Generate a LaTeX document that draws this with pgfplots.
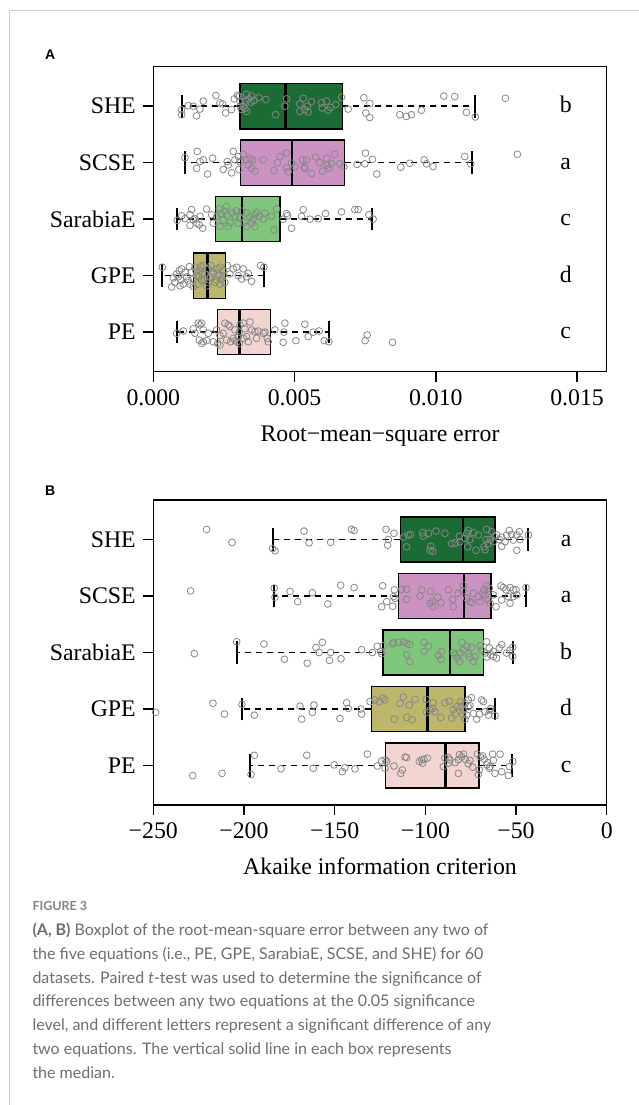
\documentclass[border=0pt]{standalone}
\usepackage{fontspec}
\setmainfont{Liberation Serif}
\newfontfamily\capfont{Lato}
\newfontfamily\labfont{Liberation Sans}
\usepackage{pgfplots}
\pgfplotsset{compat=1.18}
\usepgfplotslibrary{statistics}

\definecolor{sheC}{RGB}{27,107,52}
\definecolor{scseC}{RGB}{204,146,196}
\definecolor{sarC}{RGB}{128,198,124}
\definecolor{gpeC}{RGB}{189,183,107}
\definecolor{peC}{RGB}{242,213,209}
\definecolor{ptC}{RGB}{135,135,135}
\definecolor{capC}{RGB}{110,110,110}
\definecolor{frameC}{RGB}{205,205,205}

\tikzset{grp/.style={font=\fontsize{23.8}{26}\selectfont, anchor=base, yshift=-6.6pt}}

\pgfplotsset{
  boxplot/draw/lower whisker/.code={
    \draw[/pgfplots/boxplot/every whisker/.try, dash pattern=on 6pt off 5pt]
      (boxplot box cs:\pgfplotsboxplotvalue{lower quartile},0.5) --
      (boxplot box cs:\pgfplotsboxplotvalue{lower whisker},0.5);
    \draw[/pgfplots/boxplot/every whisker/.try, line width=1.8pt]
      (boxplot whisker cs:\pgfplotsboxplotvalue{lower whisker},0) --
      (boxplot whisker cs:\pgfplotsboxplotvalue{lower whisker},1);
  },
  boxplot/draw/upper whisker/.code={
    \draw[/pgfplots/boxplot/every whisker/.try, dash pattern=on 6pt off 5pt]
      (boxplot box cs:\pgfplotsboxplotvalue{upper quartile},0.5) --
      (boxplot box cs:\pgfplotsboxplotvalue{upper whisker},0.5);
    \draw[/pgfplots/boxplot/every whisker/.try, line width=1.8pt]
      (boxplot whisker cs:\pgfplotsboxplotvalue{upper whisker},0) --
      (boxplot whisker cs:\pgfplotsboxplotvalue{upper whisker},1);
  },
  panel/.style={
    scale only axis,
    width=453.4pt, height=305pt,
    anchor=south west,
    ymin=0.3, ymax=5.7,
    ytick={1,2,3,4,5},
    yticklabels={PE,GPE,SarabiaE,SCSE,SHE},
    scaled x ticks=false,
    tick align=outside,
    xtick pos=left, ytick pos=left,
    major tick length=10pt,
    axis line style={line width=1.5pt},
    every tick/.style={line width=1.5pt, black},
    ticklabel style={font=\fontsize{23.8}{26}\selectfont},
    yticklabel style={xshift=-4pt},
    xticklabel style={yshift=-4pt},
    xlabel style={at={(axis description cs:0.5,0)}, anchor=base, yshift=-70pt,
      font=\fontsize{23.8}{26}\selectfont},
    boxplot/draw direction=x,
    boxplot/every median/.style={line width=2.6pt},
    boxplot/every whisker/.style={line width=1.5pt},
  },
  bx/.style={draw=black, line width=1.4pt, fill=#1},
  pts/.style={only marks, mark=o, mark size=3.4pt, color=ptC,
    mark options={line width=0.8pt}},
}

\begin{document}
\begin{tikzpicture}[x=1pt, y=1pt]
\draw[frameC, line width=1pt] (9,0) -- (9,1094) -- (639,1094);

\node[anchor=base west, inner sep=0pt, font=\labfont\bfseries\fontsize{14}{16}\selectfont] at (45,1045) {A};
\node[anchor=base west, inner sep=0pt, font=\labfont\bfseries\fontsize{14}{16}\selectfont] at (45,609) {B};

% panel A: root-mean-square error
\begin{axis}[panel, at={(153.3pt,733.3pt)},
  xmin=0, xmax=0.01605,
  xtick={0,0.005,0.01,0.015},
  xticklabels={0.000,0.005,0.010,0.015},
  xlabel={Root−mean−square error}]
\addplot[bx=sheC, boxplot prepared={lower whisker=0.001005, lower quartile=0.003068,
  median=0.004685, upper quartile=0.006688, upper whisker=0.011384,
  draw position=5, box extend=0.8, whisker extend=0.4}] coordinates {};
\addplot[bx=scseC, boxplot prepared={lower whisker=0.001122, lower quartile=0.003092,
  median=0.004908, upper quartile=0.006773, upper whisker=0.011288,
  draw position=4, box extend=0.8, whisker extend=0.4}] coordinates {};
\addplot[bx=sarC, boxplot prepared={lower whisker=0.000849, lower quartile=0.002208,
  median=0.003139, upper quartile=0.004483, upper whisker=0.00775,
  draw position=3, box extend=0.8, whisker extend=0.4}] coordinates {};
\addplot[bx=gpeC, boxplot prepared={lower whisker=0.000319, lower quartile=0.001415,
  median=0.001911, upper quartile=0.002548, upper whisker=0.003917,
  draw position=2, box extend=0.8, whisker extend=0.4}] coordinates {};
\addplot[bx=peC, boxplot prepared={lower whisker=0.000828, lower quartile=0.002265,
  median=0.003043, upper quartile=0.00414, upper whisker=0.006217,
  draw position=1, box extend=0.8, whisker extend=0.4}] coordinates {};

\addplot[pts] table[row sep=\\] {
x y \\
0.001003 4.94 \\ 0.001003 4.85 \\ 0.001415 5.00 \\ 0.001533 4.83 \\ 0.001651 4.95 \\
0.00177 5.09 \\ 0.002359 5.06 \\ 0.002453 5.04 \\ 0.002559 4.88 \\ 0.002217 5.19 \\
0.002771 4.94 \\ 0.002983 5.19 \\ 0.003031 5.17 \\ 0.003066 5.09 \\ 0.003125 4.94 \\
0.003184 5.00 \\ 0.003278 5.09 \\ 0.003302 5.21 \\ 0.003302 4.91 \\ 0.003373 5.13 \\
0.003455 5.07 \\ 0.003561 5.10 \\ 0.003738 5.15 \\ 0.003986 5.12 \\ 0.004327 4.85 \\
0.004717 5.13 \\ 0.004658 5.00 \\ 0.005188 5.04 \\ 0.005306 5.14 \\ 0.005365 4.94 \\
0.005448 5.00 \\ 0.005483 4.90 \\ 0.005601 5.08 \\ 0.005955 5.06 \\ 0.005978 4.97 \\
0.00619 4.93 \\ 0.006273 4.98 \\ 0.006662 5.16 \\ 0.006898 4.95 \\ 0.007452 5.15 \\
0.007664 5.05 \\ 0.007523 4.88 \\ 0.007664 4.80 \\ 0.008725 4.85 \\ 0.008961 4.82 \\
0.009138 4.85 \\ 0.009491 4.93 \\ 0.010281 5.18 \\ 0.01067 5.17 \\ 0.011083 4.89 \\
0.011401 4.81 \\ 0.012462 5.14 \\ 0.002866 5.13 \\ 0.003243 4.96 \\ 0.003066 5.00 \\
0.006131 5.09 \\ 0.006461 5.03 \\ 0.001239 5.01 \\ 0.005188 4.91 \\ 0.003479 5.18 \\
0.001121 4.09 \\ 0.001557 4.20 \\ 0.001651 4.02 \\ 0.00177 4.05 \\ 0.001533 3.90 \\
0.001922 3.80 \\ 0.002099 4.08 \\ 0.002477 3.88 \\ 0.002618 4.02 \\ 0.002771 3.82 \\
0.00283 4.20 \\ 0.003007 4.11 \\ 0.003031 3.88 \\ 0.003184 4.15 \\ 0.003302 4.05 \\
0.00342 4.08 \\ 0.003514 4.05 \\ 0.003479 3.90 \\ 0.003597 3.85 \\ 0.003891 4.05 \\
0.004268 3.86 \\ 0.004398 4.00 \\ 0.004717 4.17 \\ 0.004717 3.91 \\ 0.004894 3.99 \\
0.005011 3.93 \\ 0.005283 4.05 \\ 0.005342 3.92 \\ 0.005601 3.81 \\ 0.005742 4.10 \\
0.00599 3.85 \\ 0.005896 4.00 \\ 0.006155 3.96 \\ 0.006214 3.90 \\ 0.006426 4.15 \\
0.006603 3.98 \\ 0.006744 3.93 \\ 0.007216 3.97 \\ 0.007511 4.17 \\ 0.007487 3.98 \\
0.007758 4.06 \\ 0.007911 3.80 \\ 0.008761 3.92 \\ 0.009079 3.99 \\ 0.009586 4.05 \\
0.009668 3.98 \\ 0.009904 3.93 \\ 0.011024 4.11 \\ 0.011236 3.98 \\ 0.012887 4.15 \\
0.003066 4.02 \\ 0.003361 3.96 \\ 0.004775 3.84 \\ 0.005365 3.90 \\ 0.005424 4.05 \\
0.006308 3.99 \\ 0.002653 3.96 \\ 0.004481 4.11 \\ 0.006131 4.08 \\ 0.002889 4.05 \\
0.000849 2.98 \\ 0.001003 3.06 \\ 0.001121 3.01 \\ 0.001298 3.08 \\ 0.001357 3.17 \\
0.001298 2.89 \\ 0.001475 3.01 \\ 0.001533 2.93 \\ 0.001627 2.90 \\ 0.001746 2.84 \\
0.001887 3.18 \\ 0.002064 3.08 \\ 0.002123 2.93 \\ 0.002335 3.18 \\ 0.002394 3.10 \\
0.002536 3.14 \\ 0.002618 3.08 \\ 0.002712 2.94 \\ 0.002807 3.11 \\ 0.002653 2.87 \\
0.002889 3.05 \\ 0.002948 3.15 \\ 0.003066 3.02 \\ 0.003208 2.94 \\ 0.003302 3.11 \\
0.003302 2.87 \\ 0.003396 3.05 \\ 0.003538 3.00 \\ 0.003597 2.87 \\ 0.003656 3.12 \\
0.00375 3.05 \\ 0.003891 3.00 \\ 0.004186 3.05 \\ 0.004268 2.81 \\ 0.004363 3.18 \\
0.004599 3.00 \\ 0.004717 3.10 \\ 0.004752 3.06 \\ 0.004894 2.84 \\ 0.005247 3.05 \\
0.005306 3.17 \\ 0.005542 3.00 \\ 0.005837 3.01 \\ 0.006096 3.10 \\ 0.006662 3.13 \\
0.007134 3.17 \\ 0.007252 3.17 \\ 0.007629 3.08 \\ 0.007782 3.00 \\ 0.001416 2.99 \\
0.002241 3.05 \\ 0.002477 2.98 \\ 0.003125 3.14 \\ 0.003479 2.93 \\ 0.002359 2.87 \\
0.003951 3.11 \\ 0.002594 3.23 \\ 0.001651 3.05 \\ 0.003007 2.93 \\ 0.003597 3.08 \\
0.000319 2.15 \\ 0.000649 1.80 \\ 0.000767 1.88 \\ 0.000826 2.03 \\ 0.00092 2.09 \\
0.000967 1.92 \\ 0.001003 2.12 \\ 0.001062 1.85 \\ 0.00118 1.98 \\ 0.001274 2.16 \\
0.001298 1.85 \\ 0.001357 2.06 \\ 0.001416 1.94 \\ 0.001475 2.15 \\ 0.001533 2.00 \\
0.001592 1.85 \\ 0.001651 2.09 \\ 0.00171 1.91 \\ 0.00177 2.18 \\ 0.001828 2.03 \\
0.001887 1.82 \\ 0.001946 2.12 \\ 0.002005 1.97 \\ 0.00204 2.18 \\ 0.002123 2.06 \\
0.002182 1.88 \\ 0.002264 2.12 \\ 0.002335 2.00 \\ 0.002359 1.85 \\ 0.002418 1.94 \\
0.002477 2.09 \\ 0.002618 2.18 \\ 0.002712 2.03 \\ 0.00283 2.12 \\ 0.002948 2.15 \\
0.003007 2.00 \\ 0.003184 2.12 \\ 0.003302 1.98 \\ 0.003361 2.04 \\ 0.003479 1.90 \\
0.003797 2.18 \\ 0.003915 2.15 \\ 0.000885 1.98 \\ 0.001121 2.06 \\ 0.001239 1.91 \\
0.001628 1.98 \\ 0.001734 2.03 \\ 0.001805 1.94 \\ 0.001946 1.88 \\ 0.002064 2.03 \\
0.002241 1.92 \\ 0.002477 2.00 \\ 0.001416 1.80 \\ 0.000708 1.96 \\ 0.00151 2.08 \\
0.002535 1.88 \\ 0.002359 2.15 \\ 0.001686 2.16 \\ 0.003125 1.94 \\ 0.000944 1.82 \\
0.000826 0.98 \\ 0.001062 1.02 \\ 0.001416 1.06 \\ 0.001475 0.98 \\ 0.001592 1.16 \\
0.001651 1.13 \\ 0.00171 1.16 \\ 0.001628 0.86 \\ 0.001769 0.83 \\ 0.00171 0.80 \\
0.001887 0.85 \\ 0.001946 0.98 \\ 0.002123 0.83 \\ 0.002241 1.04 \\ 0.002276 0.80 \\
0.002359 0.77 \\ 0.002536 1.16 \\ 0.002653 1.13 \\ 0.002712 1.10 \\ 0.002736 0.83 \\
0.00283 0.89 \\ 0.002889 0.85 \\ 0.002971 0.83 \\ 0.003042 1.00 \\ 0.003066 1.13 \\
0.003042 0.80 \\ 0.003184 1.16 \\ 0.003243 1.06 \\ 0.003302 0.92 \\ 0.003361 0.83 \\
0.00342 1.18 \\ 0.003479 1.04 \\ 0.003597 1.01 \\ 0.003715 1.02 \\ 0.003892 0.98 \\
0.003951 1.00 \\ 0.004033 0.89 \\ 0.004068 0.83 \\ 0.004304 1.04 \\ 0.004658 1.16 \\
0.004622 1.00 \\ 0.004599 0.82 \\ 0.005047 0.85 \\ 0.005365 1.14 \\ 0.005483 0.92 \\
0.00566 1.00 \\ 0.005872 1.02 \\ 0.006049 0.85 \\ 0.006214 0.83 \\ 0.00757 0.95 \\
0.007499 0.85 \\ 0.008466 0.82 \\ 0.002477 0.98 \\ 0.002594 0.86 \\ 0.002889 1.04 \\
0.003184 0.89 \\ 0.003656 0.89 \\ 0.002359 0.94 \\ 0.001769 1.04 \\ 0.003007 0.92 \\
};

\node[grp] at (axis cs:0.0146,5) {b};
\node[grp] at (axis cs:0.0146,4) {a};
\node[grp] at (axis cs:0.0146,3) {c};
\node[grp] at (axis cs:0.0146,2) {d};
\node[grp] at (axis cs:0.0146,1) {c};
\end{axis}

% panel B: Akaike information criterion
\begin{axis}[panel, at={(153.3pt,300pt)},
  xmin=-250, xmax=0,
  xtick={-250,-200,-150,-100,-50,0},
  xticklabels={−250,−200,−150,−100,−50,0},
  xlabel={Akaike information criterion}]
\addplot[bx=sheC, boxplot prepared={lower whisker=-184.2, lower quartile=-113.8,
  median=-79.2, upper quartile=-61.6, upper whisker=-43.4,
  draw position=5, box extend=0.8, whisker extend=0.4}] coordinates {};
\addplot[bx=scseC, boxplot prepared={lower whisker=-183.3, lower quartile=-114.9,
  median=-78.7, upper quartile=-63.8, upper whisker=-44.5,
  draw position=4, box extend=0.8, whisker extend=0.4}] coordinates {};
\addplot[bx=sarC, boxplot prepared={lower whisker=-204.0, lower quartile=-123.3,
  median=-86.4, upper quartile=-67.8, upper whisker=-51.8,
  draw position=3, box extend=0.8, whisker extend=0.4}] coordinates {};
\addplot[bx=gpeC, boxplot prepared={lower whisker=-201.1, lower quartile=-129.8,
  median=-98.9, upper quartile=-78.1, upper whisker=-61.8,
  draw position=2, box extend=0.8, whisker extend=0.4}] coordinates {};
\addplot[bx=peC, boxplot prepared={lower whisker=-196.5, lower quartile=-122.1,
  median=-88.8, upper quartile=-70.4, upper whisker=-52.2,
  draw position=1, box extend=0.8, whisker extend=0.4}] coordinates {};

\addplot[pts] table[row sep=\\] {
x y \\
-220.6 5.18 \\ -206.6 4.95 \\ -184.2 4.84 \\ -182.9 4.80 \\ -166.9 5.15 \\
-164.1 4.94 \\ -152.2 4.95 \\ -140.8 5.18 \\ -139.3 5.16 \\ -121.7 5.18 \\
-120.4 5.00 \\ -120.8 4.90 \\ -117.3 5.11 \\ -112.1 5.04 \\ -110.3 4.87 \\
-108.1 5.09 \\ -101.5 5.12 \\ -101.1 5.06 \\ -98.3 5.11 \\ -97.0 4.88 \\
-95.9 4.79 \\ -94.1 5.15 \\ -89.2 5.11 \\ -85.5 4.93 \\ -83.6 4.94 \\
-81.2 5.06 \\ -80.9 4.96 \\ -77.2 5.11 \\ -76.7 4.87 \\ -75.4 5.00 \\
-73.5 5.12 \\ -72.1 4.81 \\ -70.8 5.08 \\ -67.1 4.82 \\ -66.5 5.00 \\
-66.2 5.18 \\ -63.4 5.14 \\ -62.5 4.96 \\ -60.7 5.08 \\ -59.2 5.00 \\
-57.9 4.88 \\ -56.1 4.96 \\ -55.2 5.08 \\ -53.7 5.16 \\ -52.4 5.09 \\
-49.6 4.81 \\ -48.2 5.14 \\ -47.8 5.00 \\ -43.2 5.08 \\ -61.9 5.05 \\
-57.9 5.04 \\ -64.3 5.00 \\ -67.7 4.87 \\ -78.1 5.02 \\ -76.3 5.16 \\
-51.5 4.99 \\ -65.3 4.93 \\ -49.6 5.08 \\ -97.4 4.81 \\ -109.4 5.08 \\
-229.4 4.09 \\ -183.3 4.14 \\ -182.9 3.98 \\ -174.6 4.08 \\ -170.4 3.90 \\
-162.3 4.06 \\ -153.8 3.86 \\ -146.7 4.19 \\ -139.3 4.15 \\ -123.5 4.18 \\
-124.1 3.81 \\ -121.3 3.90 \\ -118.0 3.82 \\ -116.7 3.96 \\ -113.0 4.12 \\
-110.3 4.12 \\ -110.3 3.94 \\ -102.9 4.00 \\ -102.0 4.11 \\ -97.0 4.08 \\
-96.1 3.90 \\ -95.9 3.81 \\ -93.2 3.98 \\ -91.4 3.88 \\ -84.9 3.94 \\
-84.6 3.81 \\ -79.0 4.19 \\ -79.4 4.09 \\ -75.4 3.90 \\ -74.1 3.88 \\
-73.5 4.05 \\ -70.8 3.99 \\ -68.4 4.05 \\ -67.5 4.11 \\ -66.2 4.18 \\
-64.7 4.14 \\ -64.3 3.87 \\ -62.5 4.02 \\ -61.0 3.81 \\ -58.3 4.18 \\
-57.0 4.15 \\ -55.5 4.11 \\ -53.3 4.15 \\ -51.5 4.11 \\ -50.0 4.11 \\
-49.6 4.02 \\ -53.3 3.87 \\ -57.9 3.93 \\ -44.5 4.15 \\ -117.1 4.11 \\
-77.2 3.96 \\ -69.8 3.90 \\ -65.3 3.93 \\ -81.8 4.05 \\ -54.2 3.99 \\
-97.4 3.87 \\ -87.3 4.11 \\ -67.1 4.02 \\ -117.6 3.99 \\ -51.5 3.99 \\
-227.4 2.98 \\ -204.0 3.19 \\ -189.0 3.15 \\ -177.7 2.88 \\ -165.1 2.81 \\
-160.3 3.09 \\ -156.8 3.18 \\ -158.6 3.00 \\ -152.2 3.00 \\ -152.9 2.86 \\
-146.5 2.89 \\ -135.1 3.05 \\ -129.2 3.00 \\ -126.5 3.11 \\ -124.1 2.98 \\
-123.2 3.12 \\ -118.2 3.15 \\ -114.9 3.18 \\ -112.1 3.19 \\ -110.3 3.16 \\
-108.5 3.14 \\ -108.5 2.84 \\ -100.7 3.18 \\ -100.7 3.02 \\ -92.8 2.95 \\
-91.0 3.02 \\ -91.4 2.88 \\ -83.6 2.96 \\ -82.3 2.90 \\ -81.2 2.84 \\
-80.0 3.18 \\ -79.0 3.05 \\ -77.2 3.11 \\ -76.3 2.98 \\ -75.7 2.92 \\
-74.5 3.09 \\ -73.5 2.84 \\ -69.8 3.12 \\ -67.1 2.99 \\ -66.2 3.19 \\
-66.2 2.92 \\ -64.7 3.08 \\ -64.0 2.96 \\ -62.5 3.02 \\ -60.7 2.90 \\
-59.2 3.08 \\ -57.9 3.14 \\ -55.2 2.99 \\ -53.3 3.04 \\ -51.8 2.93 \\
-51.8 3.09 \\ -117.6 3.18 \\ -110.3 2.96 \\ -98.3 3.11 \\ -84.6 3.00 \\
-72.6 2.93 \\ -62.5 2.93 \\ -80.9 2.99 \\ -68.9 3.04 \\ -124.6 3.02 \\
-248.7 1.94 \\ -217.1 2.10 \\ -210.8 1.91 \\ -201.1 2.08 \\ -194.3 1.89 \\
-169.1 2.05 \\ -168.2 1.82 \\ -161.4 2.07 \\ -162.3 1.94 \\ -147.1 1.83 \\
-143.4 2.11 \\ -142.5 2.01 \\ -135.5 2.00 \\ -135.1 1.91 \\ -130.5 2.13 \\
-127.8 2.16 \\ -125.4 2.13 \\ -123.5 2.19 \\ -117.1 1.82 \\ -114.0 2.10 \\
-112.1 2.21 \\ -110.3 1.85 \\ -108.8 2.07 \\ -107.2 1.81 \\ -105.7 2.17 \\
-99.6 2.17 \\ -99.3 1.94 \\ -97.4 1.98 \\ -95.6 2.11 \\ -94.7 1.95 \\
-91.5 1.85 \\ -89.2 2.11 \\ -86.8 2.14 \\ -85.5 1.84 \\ -84.6 1.99 \\
-83.6 1.91 \\ -80.5 2.13 \\ -79.4 1.91 \\ -78.1 1.82 \\ -76.3 2.16 \\
-75.4 2.06 \\ -74.5 2.20 \\ -73.5 1.92 \\ -71.7 1.82 \\ -70.2 1.91 \\
-68.9 2.16 \\ -68.0 2.13 \\ -65.2 1.89 \\ -64.7 1.98 \\ -64.0 2.01 \\
-61.6 1.88 \\ -82.7 2.04 \\ -76.3 2.04 \\ -79.0 1.98 \\ -95.9 2.01 \\
-122.2 2.16 \\ -78.1 2.10 \\ -67.1 1.95 \\ -77.2 1.89 \\ -80.5 2.04 \\
-228.3 0.82 \\ -212.1 0.86 \\ -196.1 0.84 \\ -194.3 1.18 \\ -179.6 0.94 \\
-165.4 1.18 \\ -161.8 0.95 \\ -150.3 1.01 \\ -145.8 0.89 \\ -144.3 0.96 \\
-138.8 0.94 \\ -132.0 1.20 \\ -126.5 0.99 \\ -124.1 1.08 \\ -122.2 1.10 \\
-122.2 0.95 \\ -121.3 1.07 \\ -117.3 0.99 \\ -113.6 0.86 \\ -112.7 0.92 \\
-111.2 1.15 \\ -110.3 1.14 \\ -103.3 1.07 \\ -102.0 1.10 \\ -101.5 1.04 \\
-100.7 1.11 \\ -98.9 1.13 \\ -90.1 0.98 \\ -89.2 1.13 \\ -87.3 1.14 \\
-86.4 1.10 \\ -83.6 1.05 \\ -81.8 0.86 \\ -81.2 1.19 \\ -80.0 1.15 \\
-79.0 1.20 \\ -78.1 1.11 \\ -75.4 1.09 \\ -73.9 0.97 \\ -71.3 1.20 \\
-70.8 0.84 \\ -70.2 0.92 \\ -69.5 1.15 \\ -68.4 1.17 \\ -67.5 1.11 \\
-66.2 1.01 \\ -65.6 1.05 \\ -64.3 0.98 \\ -62.9 1.20 \\ -62.5 1.09 \\
-61.6 0.86 \\ -58.8 1.20 \\ -57.9 0.89 \\ -54.2 0.82 \\ -51.8 1.07 \\
-87.3 1.04 \\ -76.3 1.03 \\ -64.7 0.95 \\ -81.8 1.10 \\ -53.7 0.98 \\
};

\node[grp] at (axis cs:-22.4,5) {a};
\node[grp] at (axis cs:-22.4,4) {a};
\node[grp] at (axis cs:-22.4,3) {b};
\node[grp] at (axis cs:-22.4,2) {d};
\node[grp] at (axis cs:-22.4,1) {c};
\end{axis}

% caption
\node[anchor=base west, inner sep=0pt, text=capC!85, font=\capfont\bfseries\fontsize{12.5}{14}\selectfont] at (32.3,194.3) {FIGURE 3};
\begin{scope}[every node/.style={anchor=base west, inner sep=0pt, text=capC, font=\capfont\fontsize{16}{20}\selectfont}]
\node at (32.3,169.3) {\textbf{(A, B)} Boxplot of the root-mean-square error between any two of};
\node at (32.3,145.5) {the five equations (i.e., PE, GPE, SarabiaE, SCSE, and SHE) for 60};
\node at (32.3,121.7) {datasets. Paired \textit{t}-test was used to determine the significance of};
\node at (32.3,98.0) {differences between any two equations at the 0.05 significance};
\node at (32.3,74.2) {level, and different letters represent a significant difference of any};
\node at (32.3,50.4) {two equations. The vertical solid line in each box represents};
\node at (32.3,26.6) {the median.};
\end{scope}

\pgfresetboundingbox
\useasboundingbox (0,0) rectangle (639,1105);
\end{tikzpicture}
\end{document}
